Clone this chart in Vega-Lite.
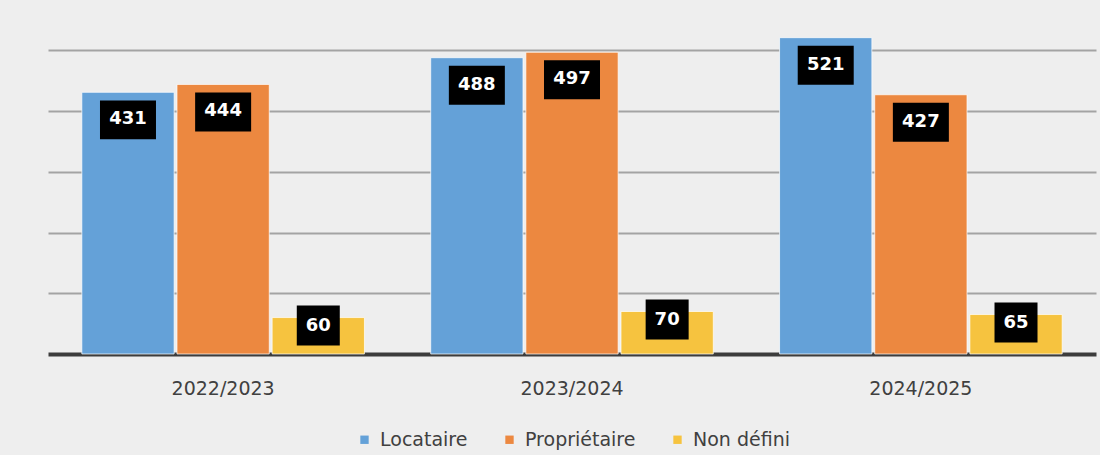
{
  "$schema": "https://vega.github.io/schema/vega-lite/v6.json",
  "width": 1048,
  "height": 340,
  "autosize": {"type": "none"},
  "padding": {"left": 48, "top": 14, "right": 4, "bottom": 101},
  "background": "#eeeeee",
  "config": {
    "view": {"stroke": null},
    "font": "DejaVu Sans",
    "legend": {"layout": {"bottom": {"anchor": "middle"}}}
  },
  "data": {
    "values": [
      {"annee": "2022/2023", "statut": "Locataire", "valeur": 431},
      {"annee": "2022/2023", "statut": "Propriétaire", "valeur": 444},
      {"annee": "2022/2023", "statut": "Non défini", "valeur": 60},
      {"annee": "2023/2024", "statut": "Locataire", "valeur": 488},
      {"annee": "2023/2024", "statut": "Propriétaire", "valeur": 497},
      {"annee": "2023/2024", "statut": "Non défini", "valeur": 70},
      {"annee": "2024/2025", "statut": "Locataire", "valeur": 521},
      {"annee": "2024/2025", "statut": "Propriétaire", "valeur": 427},
      {"annee": "2024/2025", "statut": "Non défini", "valeur": 65}
    ]
  },
  "encoding": {
    "x": {
      "field": "annee",
      "type": "nominal",
      "scale": {"paddingInner": 0.19, "paddingOuter": 0.097},
      "axis": {
        "title": null,
        "labelAngle": 0,
        "domainColor": "#3c3c3c",
        "domainWidth": 4,
        "ticks": false,
        "labelFontSize": 19,
        "labelColor": "#404040",
        "labelPadding": 25
      }
    },
    "xOffset": {
      "field": "statut",
      "type": "nominal",
      "sort": ["Locataire", "Propriétaire", "Non défini"],
      "scale": {"paddingInner": 0.03}
    },
    "y": {
      "field": "valeur",
      "type": "quantitative",
      "scale": {"domain": [0, 560]},
      "axis": {
        "title": null,
        "labels": false,
        "ticks": false,
        "domain": false,
        "grid": true,
        "gridColor": "#a3a3a3",
        "gridWidth": 2,
        "values": [100, 200, 300, 400, 500]
      }
    }
  },
  "layer": [
    {
      "mark": {"type": "bar", "stroke": "#ffffff", "strokeWidth": 1, "strokeOpacity": 0.7},
      "encoding": {
        "color": {
          "field": "statut",
          "type": "nominal",
          "scale": {
            "domain": ["Locataire", "Propriétaire", "Non défini"],
            "range": ["#64a1d8", "#ec8840", "#f6c33f"]
          },
          "legend": {
            "orient": "bottom",
            "direction": "horizontal",
            "title": null,
            "symbolType": "square",
            "symbolSize": 70,
            "symbolStrokeWidth": 0,
            "labelFontSize": 19,
            "labelColor": "#404040",
            "columnPadding": 32,
            "labelOffset": 6,
            "offset": 32
          }
        }
      }
    },
    {
      "transform": [{"filter": "datum.valeur >= 100"}],
      "mark": {"type": "point", "shape": "M-1,0.29H1V1.68H-1Z", "filled": true, "size": 3136, "color": "#000000", "opacity": 1}
    },
    {
      "transform": [{"filter": "datum.valeur < 100"}],
      "mark": {"type": "point", "shape": "M-1,-0.56H1V1.3H-1Z", "filled": true, "size": 1849, "color": "#000000", "opacity": 1}
    },
    {
      "transform": [{"filter": "datum.valeur >= 100"}],
      "mark": {"type": "text", "dy": 27, "color": "#ffffff", "fontWeight": "bold", "fontSize": 18, "baseline": "middle"},
      "encoding": {"text": {"field": "valeur", "type": "quantitative"}}
    },
    {
      "transform": [{"filter": "datum.valeur < 100"}],
      "mark": {"type": "text", "dy": 8, "color": "#ffffff", "fontWeight": "bold", "fontSize": 18, "baseline": "middle"},
      "encoding": {"text": {"field": "valeur", "type": "quantitative"}}
    }
  ]
}
